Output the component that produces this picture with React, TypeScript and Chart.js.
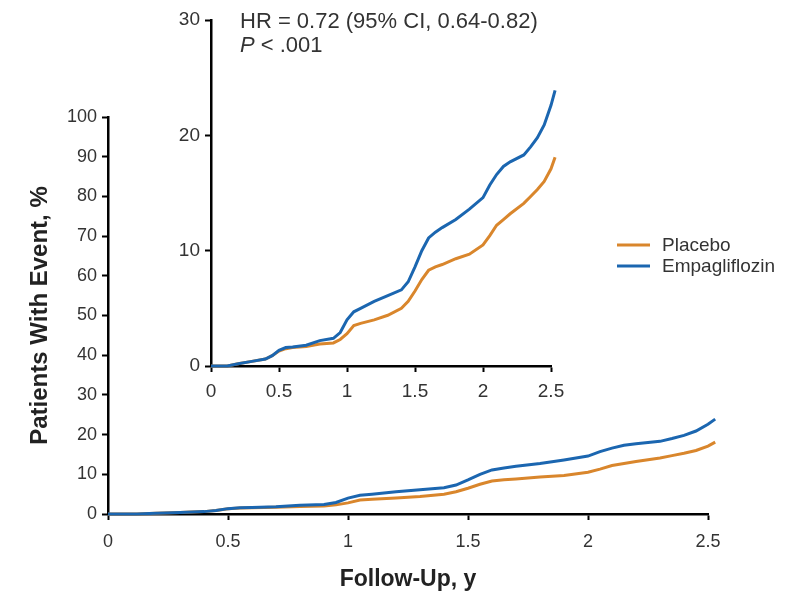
import React, { useEffect, useRef } from "react";
import { Chart, registerables } from "chart.js";

Chart.register(...registerables);

// ---- data ----
const followUp = [0, 0.12, 0.2, 0.3, 0.4, 0.45, 0.5, 0.55, 0.6, 0.7, 0.8, 0.9, 0.95, 1.0, 1.05, 1.1, 1.2, 1.3, 1.4, 1.45, 1.5, 1.55, 1.6, 1.65, 1.7, 1.8, 1.9, 2.0, 2.05, 2.1, 2.15, 2.2, 2.3, 2.35, 2.4, 2.45, 2.5, 2.53];
const empagliflozin = [0, 0, 0.2, 0.4, 0.6, 0.9, 1.35, 1.6, 1.65, 1.8, 2.2, 2.4, 2.9, 4.0, 4.7, 5.0, 5.6, 6.1, 6.6, 7.3, 8.6, 10.0, 11.1, 11.6, 12.0, 12.7, 13.6, 14.6, 15.7, 16.6, 17.3, 17.7, 18.3, 19.0, 19.8, 20.9, 22.6, 23.9];
const placebo = [0, 0, 0.2, 0.4, 0.6, 0.9, 1.3, 1.5, 1.6, 1.7, 1.9, 2.0, 2.3, 2.8, 3.5, 3.7, 4.0, 4.4, 5.0, 5.6, 6.5, 7.5, 8.3, 8.6, 8.8, 9.3, 9.7, 10.5, 11.3, 12.2, 12.7, 13.2, 14.1, 14.7, 15.3, 16.0, 17.1, 18.1];

const seriesLabels = ["Placebo", "Empagliflozin"];
const seriesColors = ["#d9862c", "#1b66b0"];
const xTicks = [0, 0.5, 1, 1.5, 2, 2.5];
const mainYTicks = [0, 10, 20, 30, 40, 50, 60, 70, 80, 90, 100];
const insetYTicks = [0, 10, 20, 30];
const xTitle = "Follow-Up, y";
const yTitle = "Patients With Event, %";
const hrText = "HR = 0.72 (95% CI, 0.64-0.82)";
const pLetter = "P";
const pRest = " < .001";

const FONT = "'Liberation Sans', Arial, Helvetica, sans-serif";

function pts(ys: number[]) {
  return followUp.map((x, i) => ({ x, y: ys[i] }));
}

function makeDatasets() {
  return [
    {
      label: seriesLabels[0],
      data: pts(placebo),
      borderColor: seriesColors[0],
      backgroundColor: seriesColors[0],
      borderWidth: 3,
      pointRadius: 0,
      tension: 0,
      clip: false as any,
      order: 2,
    },
    {
      label: seriesLabels[1],
      data: pts(empagliflozin),
      borderColor: seriesColors[1],
      backgroundColor: seriesColors[1],
      borderWidth: 3,
      pointRadius: 0,
      tension: 0,
      clip: false as any,
      order: 1,
    },
  ];
}

const legendPlugin = {
  id: "sideLegend",
  afterDraw(chart: any) {
    const ctx = chart.ctx;
    ctx.save();
    const rows = [245, 266];
    seriesLabels.forEach((lab, i) => {
      ctx.strokeStyle = seriesColors[i];
      ctx.lineWidth = 3;
      ctx.beginPath();
      ctx.moveTo(617, rows[i]);
      ctx.lineTo(650, rows[i]);
      ctx.stroke();
      ctx.fillStyle = "#333";
      ctx.font = `19px ${FONT}`;
      ctx.textBaseline = "middle";
      ctx.textAlign = "left";
      ctx.fillText(lab, 662, rows[i] + 1);
    });
    ctx.restore();
  },
};

const hrPlugin = {
  id: "hrText",
  afterDraw(chart: any) {
    const ctx = chart.ctx;
    ctx.save();
    ctx.fillStyle = "#333";
    ctx.textBaseline = "middle";
    ctx.textAlign = "left";
    ctx.font = `22px ${FONT}`;
    ctx.fillText(hrText, 90, 22);
    ctx.font = `italic 22px ${FONT}`;
    ctx.fillText(pLetter, 90, 46);
    const w = ctx.measureText(pLetter).width;
    ctx.font = `22px ${FONT}`;
    ctx.fillText(pRest, 90 + w, 46);
    ctx.restore();
  },
};

function axisCommon(tickSize: number, pad: number) {
  return {
    grid: { drawOnChartArea: false, drawTicks: true, color: "#000", tickLength: 6, tickWidth: 2 },
    border: { display: true, color: "#000", width: 2.5 },
    ticks: {
      color: "#333",
      font: { family: FONT, size: tickSize },
      padding: pad,
      maxRotation: 0,
      autoSkip: false,
      callback: (v: any) => String(v),
    },
  };
}

function bounds(min: number, max: number) {
  return (s: any) => {
    s.min = min;
    s.max = max;
  };
}

export default function App() {
  const mainRef = useRef<HTMLCanvasElement>(null);
  const insetRef = useRef<HTMLCanvasElement>(null);

  useEffect(() => {
    const mainChart = new Chart(mainRef.current as HTMLCanvasElement, {
      type: "line",
      data: { datasets: makeDatasets() as any },
      options: {
        animation: false,
        responsive: false,
        maintainAspectRatio: false,
        layout: { padding: { left: 8, right: 98, top: 117, bottom: 6 } },
        plugins: { legend: { display: false }, tooltip: { enabled: false } },
        scales: {
          x: {
            type: "linear",
            afterDataLimits: bounds(0, 2.5),
            afterBuildTicks: (s: any) => {
              s.ticks = xTicks.map((v) => ({ value: v }));
            },
            afterFit: (s: any) => {
              s.height = 79;
            },
            ...axisCommon(18, 11),
            title: {
              display: true,
              text: xTitle,
              color: "#222",
              font: { family: FONT, size: 23, weight: "bold" },
              padding: { top: 0, bottom: 0 },
            },
          } as any,
          y: {
            type: "linear",
            afterDataLimits: bounds(0, 100),
            afterBuildTicks: (s: any) => {
              s.ticks = mainYTicks.map((v) => ({ value: v }));
            },
            afterFit: (s: any) => {
              s.width = 100;
            },
            ...axisCommon(18, 5),
            title: {
              display: true,
              text: yTitle,
              color: "#222",
              font: { family: FONT, size: 24, weight: "bold" },
              padding: { top: 18, bottom: 0 },
            },
          } as any,
        },
      },
      plugins: [legendPlugin],
    });

    const insetChart = new Chart(insetRef.current as HTMLCanvasElement, {
      type: "line",
      data: { datasets: makeDatasets() as any },
      options: {
        animation: false,
        responsive: false,
        maintainAspectRatio: false,
        layout: { padding: { left: 11, right: 29, top: 20, bottom: 0 } },
        plugins: { legend: { display: false }, tooltip: { enabled: false } },
        scales: {
          x: {
            type: "linear",
            afterDataLimits: bounds(0, 2.5),
            afterBuildTicks: (s: any) => {
              s.ticks = xTicks.map((v) => ({ value: v }));
            },
            afterFit: (s: any) => {
              s.height = 44;
            },
            ...axisCommon(19, 8),
          } as any,
          y: {
            type: "linear",
            afterDataLimits: bounds(0, 30),
            afterBuildTicks: (s: any) => {
              s.ticks = insetYTicks.map((v) => ({ value: v }));
            },
            afterFit: (s: any) => {
              s.width = 50;
            },
            ...axisCommon(19, 5),
          } as any,
        },
      },
      plugins: [hrPlugin],
    });

    return () => {
      mainChart.destroy();
      insetChart.destroy();
    };
  }, []);

  return (
    <div style={{ position: "absolute", left: 0, top: 0, width: 806, height: 599, background: "#fff" }}>
      <canvas ref={mainRef} width={806} height={599} style={{ position: "absolute", left: 0, top: 0, width: 806, height: 599 }} />
      <canvas ref={insetRef} width={430} height={410} style={{ position: "absolute", left: 150, top: 0, width: 430, height: 410 }} />
    </div>
  );
}
